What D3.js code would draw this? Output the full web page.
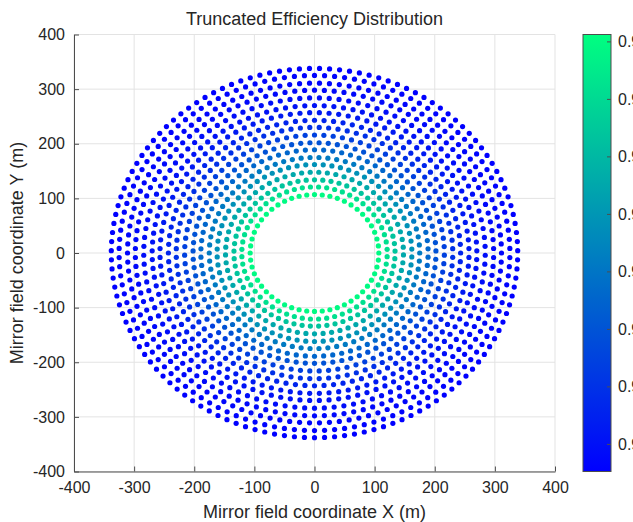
<!DOCTYPE html>
<html>
<head>
<meta charset="utf-8">
<script src="https://cdn.jsdelivr.net/npm/d3@7"></script>
<style>
  html, body { margin: 0; padding: 0; background: #fff; overflow: hidden; }
  text { font-family: "Liberation Sans", Arial, Helvetica, sans-serif; fill: #262626; }
</style>
</head>
<body>
<svg id="chart" width="633" height="522"></svg>
<script>
// ---- data ----
const ringRadius = [107, 121, 134, 148, 162, 175, 189, 202, 216, 230, 243, 257, 270, 284, 298, 311, 325, 338];
const ringCount  = [52, 56, 61, 65, 70, 74, 78, 83, 87, 92, 96, 100, 105, 109, 114, 118, 122, 127];
const ringEfficiency = [0.9897, 0.9821, 0.9737, 0.9654, 0.9585, 0.9517, 0.9456, 0.9395, 0.9342,
                        0.9296, 0.9258, 0.9228, 0.9205, 0.9190, 0.9175, 0.9167, 0.9160, 0.9152];
const axisTicks = [-400, -300, -200, -100, 0, 100, 200, 300, 400];
const colorTicks = [0.92, 0.93, 0.94, 0.95, 0.96, 0.97, 0.98, 0.99];
const colorDomain = [0.9152, 0.9912];
const titleText = "Truncated Efficiency Distribution";
const xLabelText = "Mirror field coordinate X (m)";
const yLabelText = "Mirror field coordinate Y (m)";

// heliostat points built from ring data (staggered rings)
const points = [];
ringRadius.forEach((r, i) => {
  const n = ringCount[i];
  const off = (i % 2) * 0.5;
  for (let k = 0; k < n; k++) {
    const a = 2 * Math.PI * (k + off) / n + Math.PI / 2;
    points.push({ x: r * Math.cos(a), y: r * Math.sin(a), e: ringEfficiency[i] });
  }
});

// ---- layout ----
const svg = d3.select("#chart");
const L = 74, R = 555, T = 34.5, B = 471.5;
const x = d3.scaleLinear().domain([-400, 400]).range([L, R]);
const y = d3.scaleLinear().domain([-400, 400]).range([B, T]);
const winter = d3.interpolateRgb("#0000ff", "#00ff80");
const c = d3.scaleSequential(winter).domain(colorDomain).clamp(true);

// grid
const grid = svg.append("g").attr("stroke", "#e3e3e3").attr("stroke-width", 1);
axisTicks.forEach(v => {
  grid.append("line").attr("x1", x(v)).attr("x2", x(v)).attr("y1", T).attr("y2", B);
  grid.append("line").attr("y1", y(v)).attr("y2", y(v)).attr("x1", L).attr("x2", R);
});

// axes (MATLAB-like inward ticks, hyphen minus)
const fmt = d => String(d);
const xAxis = d3.axisBottom(x).tickValues(axisTicks).tickFormat(fmt).tickSizeInner(-5).tickSizeOuter(0).tickPadding(10);
const yAxis = d3.axisLeft(y).tickValues(axisTicks).tickFormat(fmt).tickSizeInner(-5).tickSizeOuter(0).tickPadding(9);
const gx = svg.append("g").attr("transform", `translate(0,${B})`).call(xAxis);
const gy = svg.append("g").attr("transform", `translate(${L},0)`).call(yAxis);
[gx, gy].forEach(g => {
  g.select(".domain").attr("stroke", "#4d4d4d");
  g.selectAll(".tick line").attr("stroke", "#4d4d4d");
  g.selectAll(".tick text").attr("fill", "#262626").style("font-size", "16px")
   .style("font-family", '"Liberation Sans", Arial, sans-serif');
});

// points
svg.append("g").selectAll("circle").data(points).join("circle")
  .attr("cx", d => x(d.x)).attr("cy", d => y(d.y)).attr("r", 2.6)
  .attr("fill", d => c(d.e));

// title and labels
svg.append("text").attr("x", (L + R) / 2).attr("y", 25).attr("text-anchor", "middle")
  .style("font-size", "18px").attr("fill", "#000").text(titleText);
svg.append("text").attr("x", (L + R) / 2).attr("y", 518).attr("text-anchor", "middle")
  .style("font-size", "18px").text(xLabelText);
svg.append("text").attr("transform", `translate(23,${(T + B) / 2}) rotate(-90)`).attr("text-anchor", "middle")
  .style("font-size", "18px").text(yLabelText);

// colorbar
const cbL = 583, cbR = 611;
const cy = d3.scaleLinear().domain(colorDomain).range([B, T]);
const defs = svg.append("defs");
const grad = defs.append("linearGradient").attr("id", "cbgrad")
  .attr("x1", 0).attr("y1", 1).attr("x2", 0).attr("y2", 0);
d3.range(0, 1.0001, 0.1).forEach(t => {
  grad.append("stop").attr("offset", t).attr("stop-color", winter(t));
});
svg.append("rect").attr("x", cbL).attr("y", T).attr("width", cbR - cbL).attr("height", B - T)
  .attr("fill", "url(#cbgrad)").attr("stroke", "#4d4d4d").attr("stroke-width", 1);
const cAxis = d3.axisRight(cy).tickValues(colorTicks).tickFormat(d3.format(".2f"))
  .tickSizeInner(-4).tickSizeOuter(0).tickPadding(7);
const gc = svg.append("g").attr("transform", `translate(${cbR},0)`).call(cAxis);
gc.select(".domain").remove();
gc.selectAll(".tick line").attr("stroke", "#4d4d4d");
gc.selectAll(".tick text").attr("fill", "#262626").style("font-size", "16px")
  .style("font-family", '"Liberation Sans", Arial, sans-serif');
</script>
</body>
</html>
